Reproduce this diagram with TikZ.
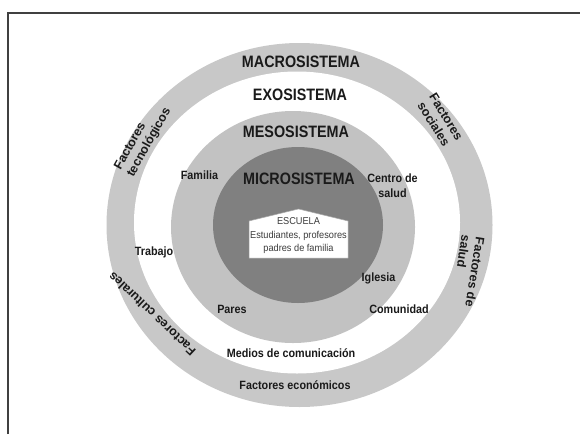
\documentclass[tikz,border=0pt]{standalone}
\usepackage{fontspec}
\setmainfont{Liberation Sans}
\newfontfamily\titlefont[FakeStretch=0.87]{Liberation Sans}
\newfontfamily\labelfont[FakeStretch=0.9]{Liberation Sans}
\newfontfamily\boxfont[FakeStretch=0.92]{Liberation Sans}
\definecolor{ringgray}{HTML}{C8C8C8}
\definecolor{mesogray}{HTML}{C2C2C2}
\definecolor{microgray}{HTML}{808080}
\definecolor{framecol}{HTML}{404040}
\definecolor{txt}{HTML}{1A1A1A}
\begin{document}
\begin{tikzpicture}[x=1pt,y=-1pt,
  title/.style={font=\titlefont\bfseries\fontsize{16.5}{18}\selectfont, text=txt, inner sep=0pt},
  lbl/.style={font=\labelfont\bfseries\fontsize{12}{15}\selectfont, text=txt, inner sep=0pt, align=center},
  rlbl/.style={font=\bfseries\fontsize{12.5}{14.5}\selectfont, text=txt, inner sep=0pt},
  housetxt/.style={font=\boxfont\fontsize{10}{13.5}\selectfont, text=txt!85, align=center, inner sep=0pt},
  housebox/.style={draw=gray!70, fill=white, line width=0.5pt}
]
\useasboundingbox (0,0) rectangle (580,434);
\fill[white] (0,0) rectangle (580,434);
\draw[framecol, line width=2pt] (7.5,434) -- (7.5,12.5) -- (580,12.5);

% rings
\fill[ringgray] (299.5,225) ellipse [x radius=193, y radius=182];
\fill[white] (297,222.5) ellipse [x radius=163, y radius=151];
\fill[mesogray] (293,227) ellipse [x radius=122, y radius=116];
\fill[microgray] (298,225) ellipse [x radius=85, y radius=78];

% house
\draw[housebox] (249,258) -- (249,221) -- (298.5,209) -- (348,221) -- (348,258) -- cycle;
\node[housetxt] (escuela) at (298.5,236) {ESCUELA\\Estudiantes, profesores\\padres de familia};

% titles
\node[title] (macro) at (301,62) {MACROSISTEMA};
\node[title] (exo) at (300,95) {EXOSISTEMA};
\node[title] (meso) at (296,132) {MESOSISTEMA};
\node[title] (micro) at (299,179) {MICROSISTEMA};

% labels
\node[lbl] (familia) at (199.5,175) {Familia};
\node[lbl] (centro) at (392.5,186) {Centro de\\salud};
\node[lbl] (trabajo) at (154,252) {Trabajo};
\node[lbl] (iglesia) at (378.5,278) {Iglesia};
\node[lbl] (pares) at (232,309) {Pares};
\node[lbl] (comunidad) at (399,309) {Comunidad};
\node[lbl] (medios) at (291,353) {Medios de comunicación};
\node[lbl] (economicos) at (295,385) {Factores económicos};

% rotated labels
\node[rlbl, align=left, rotate=61] (tecno) at (143,139) {Factores\\tecnológicos};
\node[rlbl, align=center, rotate=-58] (sociales) at (440,120.5) {Factores\\sociales};
\node[rlbl, align=left, rotate=-99] (salud) at (468,271) {Factores de\\salud};
\node[rlbl, rotate=136.6] (culturales) at (152,314) {Factores culturales};
\end{tikzpicture}
\end{document}
